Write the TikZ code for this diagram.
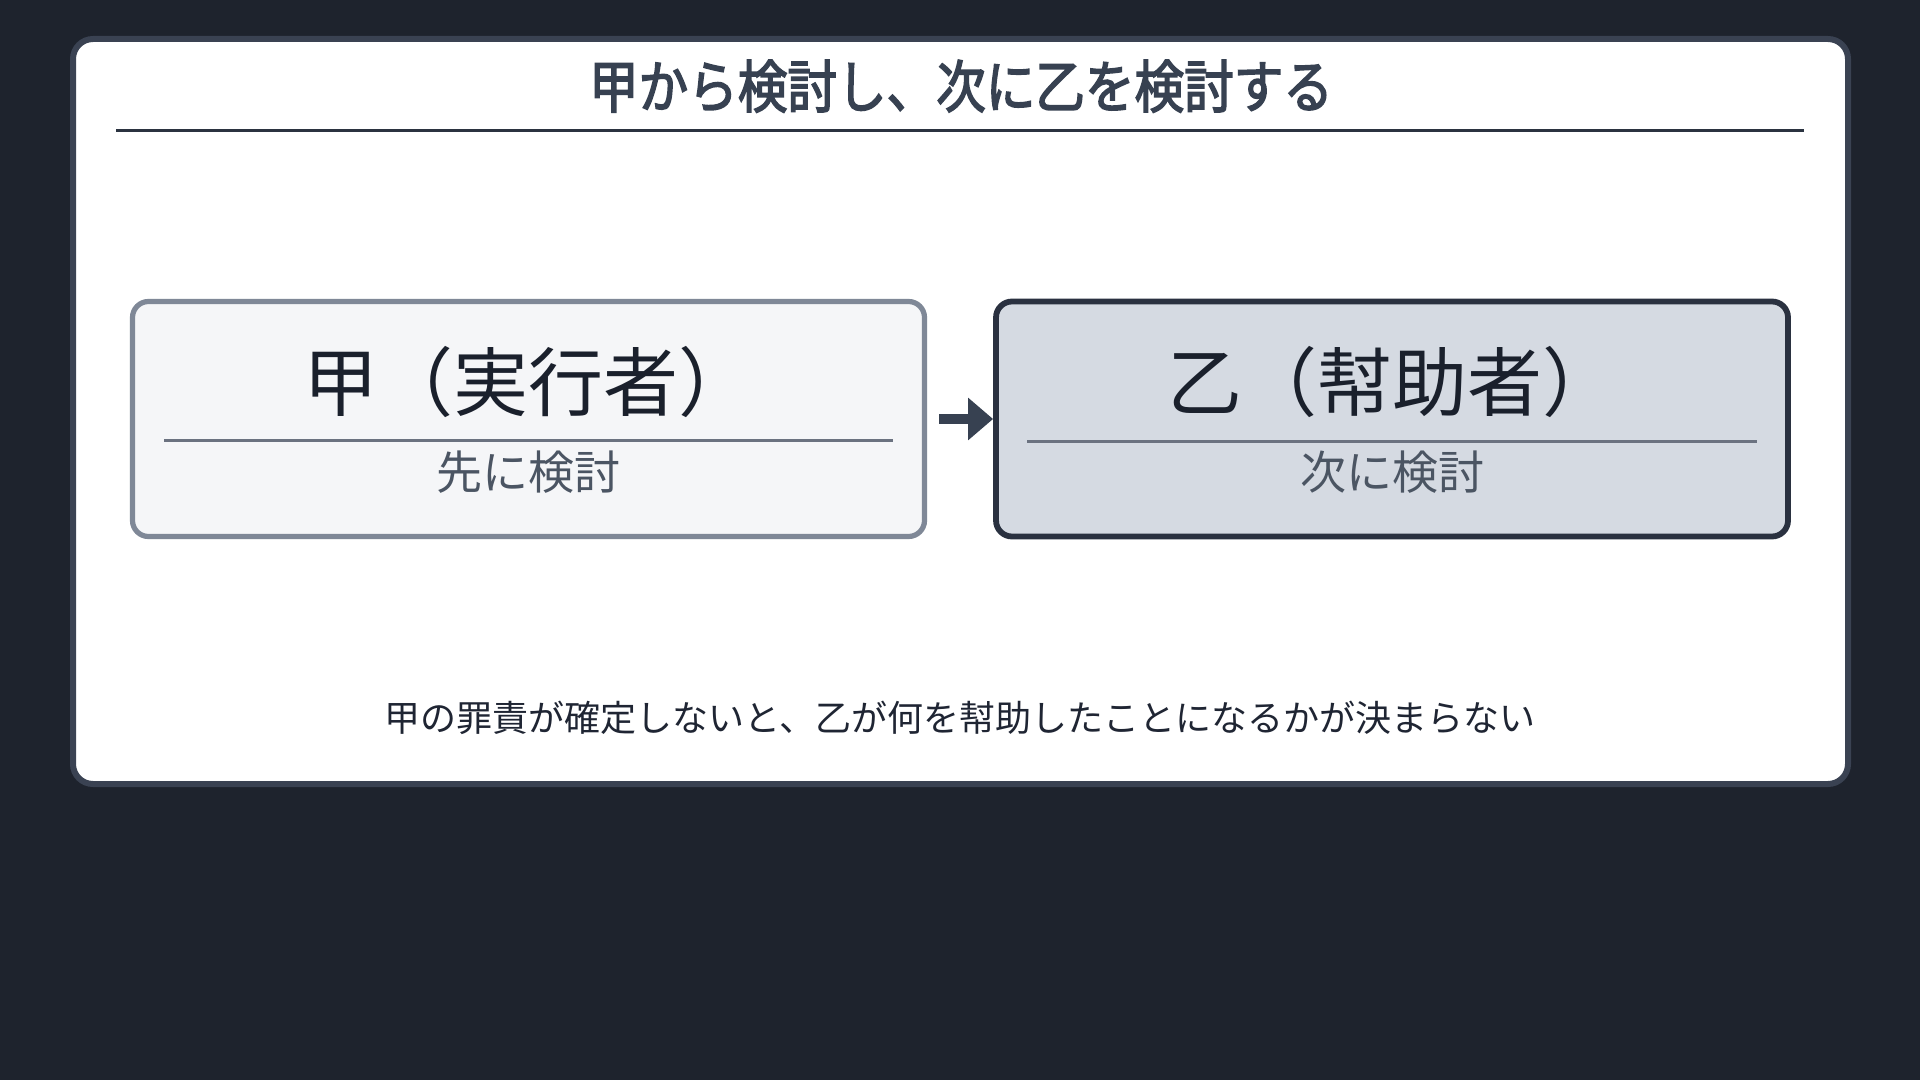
\documentclass[tikz,border=0pt]{standalone}
\usepackage{fontspec}
\setmainfont{Noto Sans CJK JP}
\newfontfamily\titlefont[FakeBold=2.6, FakeStretch=0.87]{Noto Sans CJK JP}
\usetikzlibrary{arrows.meta}
\definecolor{bgc}{HTML}{1E232D}
\definecolor{cardc}{HTML}{3A4252}
\definecolor{titlec}{HTML}{374151}
\definecolor{rulec}{HTML}{2B3340}
\definecolor{afill}{HTML}{F5F6F8}
\definecolor{aborder}{HTML}{7F8897}
\definecolor{bfill}{HTML}{D5DAE2}
\definecolor{bborder}{HTML}{2A3140}
\definecolor{innerrule}{HTML}{6B7280}
\definecolor{headc}{HTML}{1A202C}
\definecolor{subc}{HTML}{4B5563}
\definecolor{bodyc}{HTML}{1F2533}
\definecolor{arrowc}{HTML}{374151}
\tikzset{
  boxa/.style={draw=aborder, fill=afill, line width=2.6pt, rounded corners=8pt,
    minimum width=396pt, minimum height=117.5pt, inner sep=0pt},
  boxb/.style={draw=bborder, fill=bfill, line width=2.9pt, rounded corners=8pt,
    minimum width=396pt, minimum height=117.5pt, inner sep=0pt},
  headtxt/.style={inner sep=0pt, anchor=base, text=headc, font=\fontsize{37.5}{40}\selectfont},
  subtxt/.style={inner sep=0pt, anchor=base, text=subc, font=\fontsize{23}{25}\selectfont},
  innerline/.style={draw=innerrule, line width=1.5pt},
  flowarrow/.style={draw=arrowc, line width=5pt, -{Triangle[length=12.5pt,width=20.5pt]}}
}
\begin{document}
\begin{tikzpicture}[x=0.5pt,y=-0.5pt]
\fill[bgc] (0,0) rectangle (1920,1080);
\useasboundingbox (0,0) rectangle (1920,1080);
% card
\draw[draw=cardc, fill=white, line width=3pt, rounded corners=10pt] (73,39) rectangle (1848,784);
% title
\node[inner sep=0pt, anchor=base, text=titlec, font=\titlefont\fontsize{28.5}{30}\selectfont] (title) at (961,107.7) {甲から検討し、次に乙を検討する};
\draw[draw=rulec, line width=1.5pt] (116,130.5) -- (1804,130.5);
% boxes
\node[boxa] (a) at (528.5,419) {};
\node[boxb] (b) at (1392,419) {};
\node[headtxt] (ahead) at (528.5,410.5) {甲（実行者）};
\node[headtxt] (bhead) at (1392,410.5) {乙（幇助者）};
\draw[innerline] (164,440) -- (893,440);
\draw[innerline] (1027,441) -- (1757,441);
\node[subtxt] (asub) at (528.5,489.5) {先に検討};
\node[subtxt] (bsub) at (1392,489.5) {次に検討};
% arrow
\draw[flowarrow, shorten <=6pt] (a) -- (b);
% bottom text
\node[inner sep=0pt, anchor=base, text=bodyc, font=\fontsize{18}{20}\selectfont] (note) at (960,731) {甲の罪責が確定しないと、乙が何を幇助したことになるかが決まらない};
\end{tikzpicture}
\end{document}
